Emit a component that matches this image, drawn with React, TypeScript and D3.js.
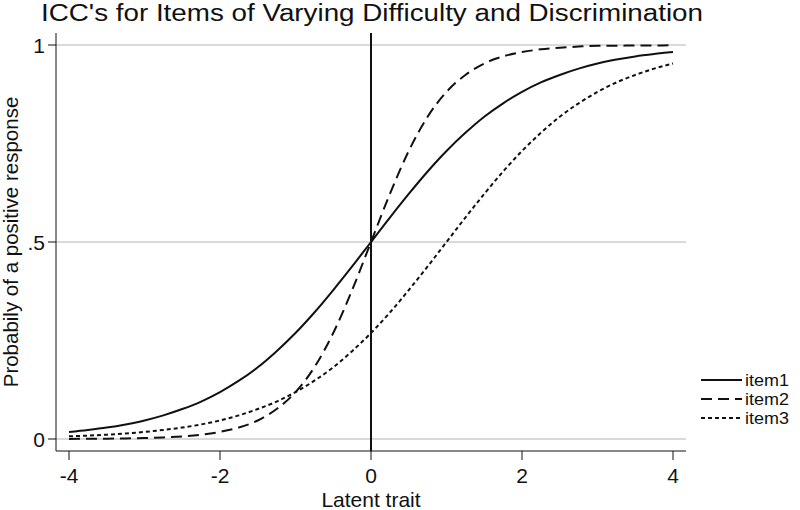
import React from "react";
import * as d3 from "d3";

const xs = [-4, -3.75, -3.5, -3.25, -3, -2.75, -2.5, -2.25, -2, -1.75, -1.5, -1.25, -1, -0.75, -0.5, -0.25, 0, 0.25, 0.5, 0.75, 1, 1.25, 1.5, 1.75, 2, 2.25, 2.5, 2.75, 3, 3.25, 3.5, 3.75, 4];
const item1 = [0.018, 0.023, 0.029, 0.037, 0.047, 0.06, 0.076, 0.095, 0.119, 0.148, 0.182, 0.223, 0.269, 0.321, 0.378, 0.438, 0.5, 0.562, 0.622, 0.679, 0.731, 0.777, 0.818, 0.852, 0.881, 0.905, 0.924, 0.94, 0.953, 0.963, 0.971, 0.977, 0.982];
const item2 = [0.0003, 0.0006, 0.0009, 0.0015, 0.0025, 0.004, 0.0067, 0.011, 0.018, 0.029, 0.047, 0.076, 0.119, 0.182, 0.269, 0.378, 0.5, 0.622, 0.731, 0.818, 0.881, 0.924, 0.953, 0.971, 0.982, 0.989, 0.993, 0.996, 0.998, 0.998, 0.999, 0.999, 1.0];
const item3 = [0.0067, 0.0086, 0.011, 0.014, 0.018, 0.023, 0.029, 0.037, 0.047, 0.06, 0.076, 0.095, 0.119, 0.148, 0.182, 0.223, 0.269, 0.321, 0.378, 0.438, 0.5, 0.562, 0.622, 0.679, 0.731, 0.777, 0.818, 0.852, 0.881, 0.905, 0.924, 0.94, 0.953];
const seriesNames = ["item1", "item2", "item3"];
const xTicks = [-4, -2, 0, 2, 4];
const yTicks = [0, 0.5, 1];
const yTickLabels = ["0", ".5", "1"];

const dashes = ["none", "11,6", "4,3"];
const FONT = "'Liberation Sans', Arial, sans-serif";

export default function App() {
  const W = 800, H = 510;
  const x = d3.scaleLinear().domain([-4, 4]).range([69, 673]);
  const y = d3.scaleLinear().domain([0, 1]).range([439, 45]);
  const plotL = 56, plotR = 686, plotT = 33, plotB = 451;
  const line = d3.line<number>().x((_, i) => x(xs[i])).y(d => y(d)).curve(d3.curveMonotoneX);
  const all = [item1, item2, item3];
  return (
    <svg width={W} height={H} style={{ position: "absolute", left: 0, top: 0, background: "#fff" }}>
      <rect x={0} y={0} width={W} height={H} fill="#fff" />
      <text x={41} y={21} fontFamily={FONT} fontSize={23} textLength={662} lengthAdjust="spacingAndGlyphs" fill="#111">ICC's for Items of Varying Difficulty and Discrimination</text>
      {yTicks.map(t => (
        <line key={"g" + t} x1={plotL} x2={plotR} y1={y(t)} y2={y(t)} stroke="#b4b4b4" strokeWidth={1} />
      ))}
      <line x1={x(0)} x2={x(0)} y1={plotT} y2={plotB} stroke="#111" strokeWidth={2} />
      {all.map((s, i) => (
        <path key={i} d={line(s) || ""} fill="none" stroke="#111" strokeWidth={2} strokeDasharray={dashes[i]} />
      ))}
      <line x1={plotL} x2={plotL} y1={plotT} y2={plotB} stroke="#111" strokeWidth={1} />
      <line x1={plotL} x2={plotR} y1={plotB} y2={plotB} stroke="#111" strokeWidth={1} />
      {yTicks.map((t, i) => (
        <g key={"y" + t}>
          <line x1={plotL - 8} x2={plotL} y1={y(t)} y2={y(t)} stroke="#111" strokeWidth={1} />
          <text x={45} y={y(t)} dy="0.36em" textAnchor="end" fontFamily={FONT} fontSize={21} fill="#111">{yTickLabels[i]}</text>
        </g>
      ))}
      {xTicks.map(t => (
        <g key={"x" + t}>
          <line x1={x(t)} x2={x(t)} y1={plotB} y2={plotB + 9} stroke="#111" strokeWidth={1} />
          <text x={x(t)} y={483} textAnchor="middle" fontFamily={FONT} fontSize={21} fill="#111">{t}</text>
        </g>
      ))}
      <text x={x(0)} y={507} textAnchor="middle" fontFamily={FONT} fontSize={21} fill="#111">Latent trait</text>
      <text transform={`translate(18,242) rotate(-90)`} textAnchor="middle" fontFamily={FONT} fontSize={20.5} fill="#111">Probabily of a positive response</text>
      {seriesNames.map((n, i) => (
        <g key={n}>
          <line x1={701} x2={742} y1={380 + i * 19} y2={380 + i * 19} stroke="#111" strokeWidth={2} strokeDasharray={dashes[i]} />
          <text x={745} y={380 + i * 19} dy="0.36em" fontFamily={FONT} fontSize={16.5} textLength={44} lengthAdjust="spacingAndGlyphs" fill="#111">{n}</text>
        </g>
      ))}
    </svg>
  );
}
